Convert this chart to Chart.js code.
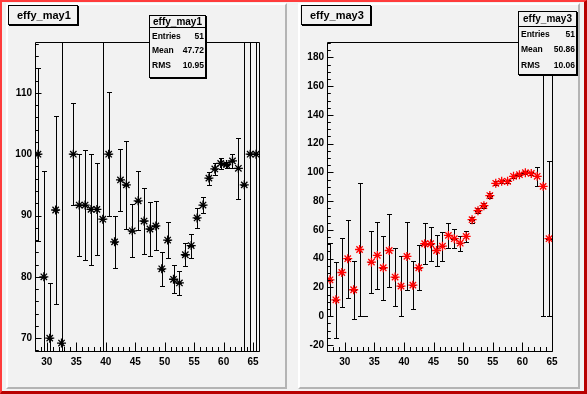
<!DOCTYPE html>
<html>
<head>
<meta charset="utf-8">
<title>effy_may1 / effy_may3</title>
<script src="https://cdn.jsdelivr.net/npm/chart.js@4.4.1/dist/chart.umd.min.js"></script>
<style>
  body { margin: 0; background: #f2f2f2; }
  #root { position: relative; width: 587px; height: 394px; overflow: hidden; background: #f2f2f2;
          font-family: "Liberation Sans", Arial, sans-serif; color: #000; }
  .outer { position: absolute; left: 0; top: 0; width: 587px; height: 394px; box-sizing: border-box;
           border-style: solid; border-width: 2px 3px 3px 2px;
           border-color: #ff3c3c #b80000 #b80000 #ff3c3c; }
  .pad { position: absolute; box-sizing: border-box; border-style: solid; border-width: 2px;
         border-color: #ffffff #b4b4b4 #b4b4b4 #ffffff; background: #f2f2f2; }
  canvas { position: absolute; }
  .title { position: absolute; box-sizing: border-box; border: 1px solid #000; box-shadow: 1px 1px 0 #000;
           background: #f2f2f2; font-weight: bold; font-size: 11px; line-height: 18px; padding-left: 8px; }
  .stats { position: absolute; box-sizing: border-box; border: 1px solid #000; box-shadow: 1px 1px 0 #000;
           background: #f2f2f2; font-weight: bold; }
  .stats .head { border-bottom: 1px solid #000; text-align: center; font-size: 10px; }
  .stats .row { display: flex; justify-content: space-between; padding: 0 1px 0 2px; font-size: 8.5px;
                font-family: "Liberation Sans Narrow", "Liberation Sans", Arial, sans-serif; }
</style>
</head>
<body>
<div id="root">
  <div class="outer"></div>
  <div class="pad" style="left:6px; top:3px; width:281px; height:386px;"></div>
  <div class="pad" style="left:298px; top:3px; width:282px; height:386px;"></div>

  <canvas id="chartMay1" width="277" height="382" style="left:8px; top:5px;"></canvas>
  <canvas id="chartMay3" width="278" height="382" style="left:300px; top:5px;"></canvas>

  <div class="title" style="left:8px; top:5px; width:70px; height:20px;">effy_may1</div>
  <div class="title" style="left:301px; top:5px; width:70px; height:20px;">effy_may3</div>

  <div class="stats" style="left:149px; top:15px; width:57px; height:63px;">
    <div class="head" style="height:11px; line-height:11px;">effy_may1</div>
    <div style="padding-top:1px;">
      <div class="row" style="height:14.3px; line-height:14.3px;"><span>Entries</span><span>51</span></div>
      <div class="row" style="height:14.3px; line-height:14.3px;"><span>Mean</span><span>47.72</span></div>
      <div class="row" style="height:14.3px; line-height:14.3px;"><span>RMS</span><span>10.95</span></div>
    </div>
  </div>
  <div class="stats" style="left:518px; top:11px; width:59px; height:64px;">
    <div class="head" style="height:14px; line-height:13px;">effy_may3</div>
    <div class="row" style="height:15.3px; line-height:15.3px;"><span>Entries</span><span>51</span></div>
    <div class="row" style="height:15.3px; line-height:15.3px;"><span>Mean</span><span>50.86</span></div>
    <div class="row" style="height:15.3px; line-height:15.3px;"><span>RMS</span><span>10.06</span></div>
  </div>
</div>

<script>
// effy_may1 - bin centres, efficiency values and errors (empty bin at 33.5)
const may1Bins = [28.5, 29.5, 30.5, 31.5, 32.5, 33.5, 34.5, 35.5, 36.5, 37.5, 38.5, 39.5, 40.5,
  41.5, 42.5, 43.5, 44.5, 45.5, 46.5, 47.5, 48.5, 49.5, 50.5, 51.5, 52.5, 53.5, 54.5, 55.5,
  56.5, 57.5, 58.5, 59.5, 60.5, 61.5, 62.5, 63.5, 64.5, 65.5];
const may1Values = [100, 80, 70, 90.9, 69.2, 0, 100, 91.7, 91.7, 91, 91, 89.4, 100,
  85.7, 95.8, 95.0, 87.5, 92.4, 89.1, 87.8, 88.3, 81.3, 86.0, 79.6, 79.0, 83.6, 85.1, 89.6,
  91.7, 96.1, 97.6, 98.5, 98.3, 98.9, 97.7, 95.0, 100, 100];
const may1Errors = [14.1, 17.2, 9, 15.4, 69.2, 0, 8.3, 8.3, 9, 9.1, 7.5, 89.4, 10.1,
  4.2, 5, 7.2, 4.3, 4.8, 5.4, 4.4, 4, 2.8, 2.9, 2.3, 2, 1.85, 1.95, 1.7,
  1.3, 1.05, 1.0, 0.95, 0.5, 1.2, 4.95, 95, 100, 100];

// effy_may3
const may3Bins = [27.5, 28.5, 29.5, 30.5, 31.5, 32.5, 33.5, 34.5, 35.5, 36.5, 37.5, 38.5, 39.5,
  40.5, 41.5, 42.5, 43.5, 44.5, 45.5, 46.5, 47.5, 48.5, 49.5, 50.5, 51.5, 52.5, 53.5, 54.5,
  55.5, 56.5, 57.5, 58.5, 59.5, 60.5, 61.5, 62.5, 63.5, 64.5];
const may3Values = [25.3, 11.4, 30.4, 40, 18.4, 46.4, 0, 37.6, 42.3, 33.7, 45.7, 27.2, 20.9,
  41.6, 21.6, 33.7, 50.4, 50.4, 45.7, 48.7, 56.2, 53.9, 50.8, 55.5, 67.1, 73.4, 76.9, 83.9,
  92.4, 93.8, 93.8, 97.3, 98.4, 99.8, 99.3, 97.3, 90.3, 53.9];
const may3Errors = [25.3, 26.5, 24.3, 27, 20.2, 46.4, 0, 21.8, 23.5, 22.1, 25.6, 20.2, 20.9,
  23.7, 16.8, 15.5, 14.3, 11.8, 10.8, 10, 8.5, 6.6, 5.2, 4.1, 2, 1.8, 1.7, 1.6,
  1.4, 1.2, 1.1, 1, 1, 1, 1.2, 6.8, 90.3, 53.9];

Chart.defaults.font.family = '"Liberation Sans", Arial, sans-serif';

// ROOT-like pad: error bars with caps, frame box and inside tick marks
const rootPad = {
  id: "rootPad",
  beforeDatasetsDraw(chart) {
    const { ctx, chartArea: a, scales: { x, y } } = chart;
    ctx.save();
    ctx.beginPath();
    ctx.rect(a.left, a.top, a.right - a.left + 1, a.bottom - a.top + 1);
    ctx.clip();
    ctx.strokeStyle = "#000";
    ctx.lineWidth = 1;
    ctx.beginPath();
    chart.data.datasets[0].data.forEach((p) => {
      const cx = Math.round(x.getPixelForValue(p.x)) + 0.5;
      const cy = Math.round(y.getPixelForValue(p.y)) + 0.5;
      ctx.moveTo(Math.round(x.getPixelForValue(p.x - 0.5)), cy);
      ctx.lineTo(Math.round(x.getPixelForValue(p.x + 0.5)), cy);
      if (p.err > 0) {
        const yt = Math.round(y.getPixelForValue(p.y + p.err)) + 0.5;
        const yb = Math.round(y.getPixelForValue(p.y - p.err)) + 0.5;
        ctx.moveTo(cx, yt);
        ctx.lineTo(cx, yb);
        [yt, yb].forEach((ye) => {
          if (ye > a.top && ye < a.bottom) {
            ctx.moveTo(cx - 2.5, ye);
            ctx.lineTo(cx + 2.5, ye);
          }
        });
      }
    });
    ctx.stroke();
    ctx.restore();
  },
  afterDraw(chart, args, opts) {
    const { ctx, chartArea: a, scales: { x, y } } = chart;
    ctx.save();
    ctx.strokeStyle = "#000";
    ctx.lineWidth = 1;
    ctx.beginPath();
    ctx.rect(a.left + 0.5, a.top + 0.5, a.right - a.left, a.bottom - a.top);
    for (let k = Math.ceil(x.min / opts.xMinor); k * opts.xMinor <= x.max; k++) {
      const v = k * opts.xMinor;
      const len = v % opts.xMajor === 0 ? 9 : 4.5;
      const px = Math.round(x.getPixelForValue(v)) + 0.5;
      ctx.moveTo(px, a.bottom + 0.5);
      ctx.lineTo(px, a.bottom + 0.5 - len);
    }
    for (let k = Math.ceil(y.min / opts.yMinor); k * opts.yMinor <= y.max; k++) {
      const v = k * opts.yMinor;
      const len = v % opts.yMajor === 0 ? 6 : 3.3;
      const py = Math.round(y.getPixelForValue(v)) + 0.5;
      ctx.moveTo(a.left + 0.5, py);
      ctx.lineTo(a.left + 0.5 + len, py);
    }
    ctx.stroke();
    ctx.restore();
  },
};

function padChart(id, bins, values, errors, color, axes) {
  const points = bins.map((b, i) => ({ x: b, y: values[i], err: errors[i] }));
  const tickFont = { size: 10, weight: "bold" };
  return new Chart(document.getElementById(id), {
    type: "scatter",
    data: {
      datasets: [
        {
          data: points,
          pointStyle: "star",
          pointRadius: (c) => (c.raw && c.raw.y === 0 && c.raw.err === 0 ? 0 : 4.5),
          borderColor: color,
          backgroundColor: color,
          borderWidth: 1.3,
        },
      ],
    },
    options: {
      responsive: false,
      animation: false,
      devicePixelRatio: 1,
      events: [],
      layout: { padding: { left: 0, top: 37, right: axes.padRight, bottom: 16 } },
      plugins: { legend: { display: false }, tooltip: { enabled: false }, rootPad: axes },
      scales: {
        x: {
          type: "linear",
          min: axes.xMin,
          max: axes.xMax,
          afterFit: (s) => { s.height = 20; },
          grid: { display: false, drawTicks: false },
          border: { display: false },
          ticks: { stepSize: 5, includeBounds: false, color: "#000", font: tickFont, padding: 5,
                   maxRotation: 0, autoSkip: false },
        },
        y: {
          type: "linear",
          min: axes.yMin,
          max: axes.yMax,
          afterFit: (s) => { s.width = 27; },
          grid: { display: false, drawTicks: false },
          border: { display: false },
          ticks: { stepSize: axes.yMajor, includeBounds: false, color: "#000", font: tickFont, padding: 3 },
        },
      },
    },
    plugins: [rootPad],
  });
}

padChart("chartMay1", may1Bins, may1Values, may1Errors, "#000000", {
  xMin: 28, xMax: 66, yMin: 67.9, yMax: 118.3,
  xMinor: 1, xMajor: 5, yMinor: 2, yMajor: 10, padRight: 26,
});
padChart("chartMay3", may3Bins, may3Values, may3Errors, "#ff0000", {
  xMin: 27, xMax: 65, yMin: -24.2, yMax: 190.7,
  xMinor: 1, xMajor: 5, yMinor: 5, yMajor: 20, padRight: 26,
});
</script>
</body>
</html>
